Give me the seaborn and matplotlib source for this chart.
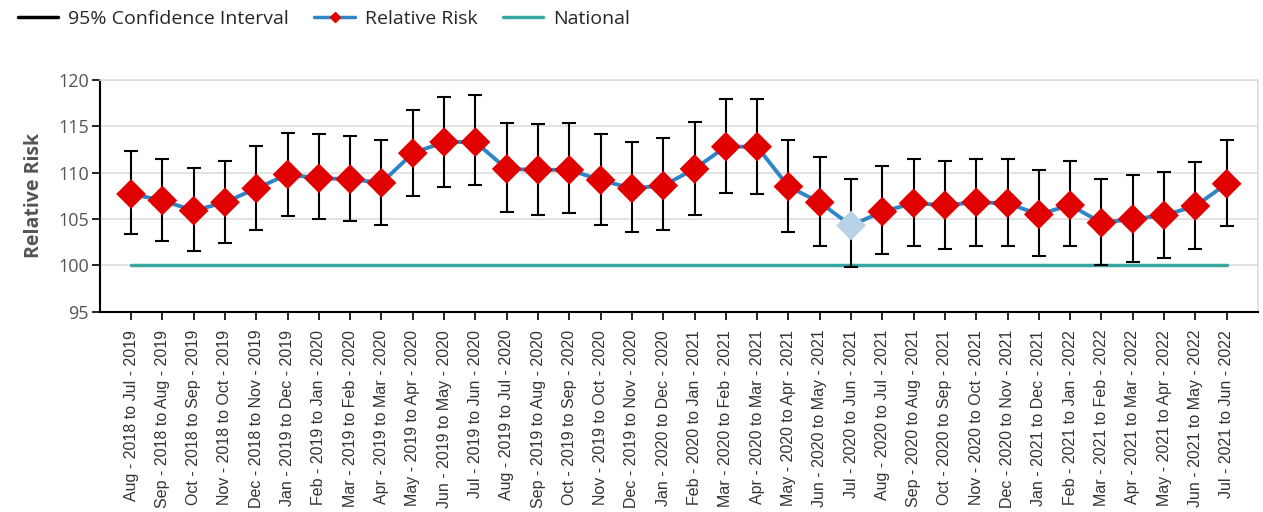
import numpy as np
import pandas as pd
import matplotlib
matplotlib.use("Agg")
import matplotlib.pyplot as plt
from matplotlib.lines import Line2D
import seaborn as sns

# Period labels (rolling 12 months)
periods = [
    "Aug - 2018 to Jul - 2019", "Sep - 2018 to Aug - 2019", "Oct - 2018 to Sep - 2019",
    "Nov - 2018 to Oct - 2019", "Dec - 2018 to Nov - 2019", "Jan - 2019 to Dec - 2019",
    "Feb - 2019 to Jan - 2020", "Mar - 2019 to Feb - 2020", "Apr - 2019 to Mar - 2020",
    "May - 2019 to Apr - 2020", "Jun - 2019 to May - 2020", "Jul - 2019 to Jun - 2020",
    "Aug - 2019 to Jul - 2020", "Sep - 2019 to Aug - 2020", "Oct - 2019 to Sep - 2020",
    "Nov - 2019 to Oct - 2020", "Dec - 2019 to Nov - 2020", "Jan - 2020 to Dec - 2020",
    "Feb - 2020 to Jan - 2021", "Mar - 2020 to Feb - 2021", "Apr - 2020 to Mar - 2021",
    "May - 2020 to Apr - 2021", "Jun - 2020 to May - 2021", "Jul - 2020 to Jun - 2021",
    "Aug - 2020 to Jul - 2021", "Sep - 2020 to Aug - 2021", "Oct - 2020 to Sep - 2021",
    "Nov - 2020 to Oct - 2021", "Dec - 2020 to Nov - 2021", "Jan - 2021 to Dec - 2021",
    "Feb - 2021 to Jan - 2022", "Mar - 2021 to Feb - 2022", "Apr - 2021 to Mar - 2022",
    "May - 2021 to Apr - 2022", "Jun - 2021 to May - 2022", "Jul - 2021 to Jun - 2022",
]

relative_risk = [
    107.7, 107.0, 105.9, 106.8, 108.3, 109.8, 109.4, 109.3, 108.9, 112.1, 113.3, 113.3,
    110.4, 110.3, 110.3, 109.2, 108.3, 108.6, 110.4, 112.8, 112.8, 108.5, 106.8, 104.3,
    105.8, 106.7, 106.5, 106.8, 106.7, 105.5, 106.5, 104.6, 105.0, 105.4, 106.4, 108.8,
]
ci_upper = [
    112.3, 111.5, 110.5, 111.3, 112.9, 114.3, 114.2, 113.9, 113.5, 116.8, 118.2, 118.4,
    115.3, 115.2, 115.3, 114.2, 113.3, 113.7, 115.5, 117.9, 117.9, 113.5, 111.7, 109.3,
    110.7, 111.5, 111.3, 111.5, 111.5, 110.3, 111.3, 109.3, 109.7, 110.1, 111.1, 113.5,
]
ci_lower = [
    103.4, 102.6, 101.6, 102.4, 103.8, 105.3, 105.0, 104.8, 104.4, 107.5, 108.5, 108.7,
    105.8, 105.4, 105.7, 104.4, 103.6, 103.8, 105.4, 107.8, 107.7, 103.6, 102.1, 99.8,
    101.2, 102.1, 101.8, 102.1, 102.1, 101.0, 102.1, 100.0, 100.4, 100.8, 101.8, 104.3,
]
national = [100] * len(periods)
# the one period shown with a pale marker
highlight = "Jul - 2020 to Jun - 2021"

df = pd.DataFrame({
    "period": periods,
    "rr": relative_risk,
    "upper": ci_upper,
    "lower": ci_lower,
    "national": national,
})
df["x"] = np.arange(len(df))
df["flag"] = np.where(df["period"] == highlight, "pale", "normal")

sns.set_style("white")
plt.rcParams["font.family"] = ["Open Sans", "DejaVu Sans"]

fig = plt.figure(figsize=(12.63, 5.12), dpi=100)
ax = fig.add_axes([0.079, 0.391, 0.917, 0.453])

line_blue = "#2f86c6"
red = "#e00000"
teal = "#3aa6a2"

# National baseline
sns.lineplot(data=df, x="x", y="national", color=teal, linewidth=2.5, ax=ax, zorder=2)

# Relative risk line
sns.lineplot(data=df, x="x", y="rr", color=line_blue, linewidth=2.8, ax=ax, zorder=3)

# Confidence intervals
ax.errorbar(df["x"], df["rr"],
            yerr=[df["rr"] - df["lower"], df["upper"] - df["rr"]],
            fmt="none", ecolor="black", elinewidth=1.5, capsize=5, capthick=1.5, zorder=4)

# Markers
sns.scatterplot(data=df, x="x", y="rr", hue="flag",
                palette={"normal": red, "pale": "#b9d3e6"},
                marker="D", s=230, edgecolor="none", legend=False, ax=ax, zorder=5)

ax.set_xlim(-1, len(df))
ax.set_ylim(95, 120)
ax.set_yticks([95, 100, 105, 110, 115, 120])
ax.set_xticks(df["x"])
ax.set_xticklabels(df["period"], rotation=90, fontsize=11.5,
                   family=["Liberation Sans", "DejaVu Sans"], color="#333333")
ax.tick_params(axis="y", labelsize=13, labelcolor="#555555", direction="out",
               length=6, width=1.2, color="black", left=True, pad=2)
ax.tick_params(axis="x", direction="out", length=6, width=1.2, color="black",
               bottom=True, pad=7)
ax.set_xlabel("")
ax.set_ylabel("Relative Risk", fontsize=14, fontweight="bold", color="#555555", labelpad=10)

ax.yaxis.grid(True, color="#dddddd", linewidth=1.2)
ax.set_axisbelow(True)
for side in ["top", "right"]:
    ax.spines[side].set_color("#dddddd")
    ax.spines[side].set_linewidth(1.2)
for side in ["left", "bottom"]:
    ax.spines[side].set_color("black")
    ax.spines[side].set_linewidth(1.5)

# Legend
handles = [
    Line2D([], [], color="black", linewidth=2.5),
    Line2D([], [], color=line_blue, linewidth=2.5, marker="D", markersize=5,
           markerfacecolor=red, markeredgecolor=red),
    Line2D([], [], color=teal, linewidth=2.5),
]
fig.legend(handles, ["95% Confidence Interval", "Relative Risk", "National"],
           loc="upper left", bbox_to_anchor=(0.0, 1.015), ncol=3, frameon=False,
           fontsize=14, handlelength=2.1, handletextpad=0.5, columnspacing=1.3)

fig.savefig("out.png", dpi=100)
